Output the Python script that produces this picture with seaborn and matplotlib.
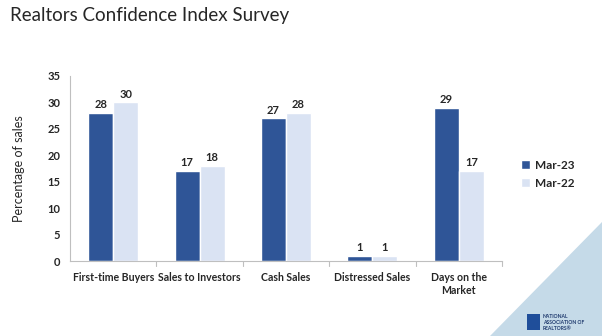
import matplotlib
matplotlib.use("Agg")
import matplotlib.pyplot as plt
import seaborn as sns
import pandas as pd
from matplotlib.patches import Polygon, Rectangle

categories = ["First-time Buyers", "Sales to Investors", "Cash Sales", "Distressed Sales", "Days on the\nMarket"]
mar23 = [28, 17, 27, 1, 29]
mar22 = [30, 18, 28, 1, 17]
series = ["Mar-23", "Mar-22"]

df = pd.DataFrame({
    "category": categories * 2,
    "value": mar23 + mar22,
    "series": [series[0]] * 5 + [series[1]] * 5,
})

sns.set_style("white")
plt.rcParams['font.family'] = ['Lato', 'DejaVu Sans']

fig = plt.figure(figsize=(6.02, 3.36), dpi=100)
# decorative triangle bottom-right
tri = Polygon([(490/602, 0), (1, 0), (1, 1 - 222/336)], closed=True,
              transform=fig.transFigure, facecolor="#C5DAE8", edgecolor="none", zorder=0)
fig.patches.append(tri)

ax = fig.add_axes([70/602, 1 - 261/336, (502-70)/602, (261-76)/336])
sns.barplot(data=df, x="category", y="value", hue="series", order=categories,
            hue_order=series, palette=["#2F5597", "#DAE3F3"], width=0.58,
            saturation=1, ax=ax, legend=True)
for c in ax.containers:
    ax.bar_label(c, labels=[f"{v:.0f}" for v in c.datavalues], fontsize=8,
                 fontweight="bold", padding=2)
ax.set_ylim(0, 35)
ax.set_yticks(range(0, 36, 5))
ax.set_xlim(-0.5, 4.5)
ax.set_xlabel("")
ax.set_ylabel("Percentage of sales", fontsize=9, labelpad=16)
ax.tick_params(axis="y", labelsize=8, length=4, color="#BFBFBF", direction="out", pad=3)
ax.tick_params(axis="x", labelsize=7.6, length=0, pad=8)
for lab in ax.get_yticklabels() + ax.get_xticklabels():
    lab.set_fontweight("bold")
for s in ["top", "right"]:
    ax.spines[s].set_visible(False)
ax.spines["left"].set_color("#BFBFBF")
ax.spines["bottom"].set_color("#BFBFBF")
for x in [0.5, 1.5, 2.5, 3.5, 4.5]:
    ax.plot([x, x], [0, -0.9], color="#BFBFBF", lw=0.8, clip_on=False)
ax.set_facecolor("none")

leg = ax.legend(loc="center left", bbox_to_anchor=(1.02, 0.47), frameon=False,
                fontsize=8.5, handlelength=0.7, handleheight=0.7, handletextpad=0.5,
                labelspacing=0.6)
for t in leg.get_texts():
    t.set_fontweight("bold")

fig.text(10/602, 1 - 16/336, "Realtors Confidence Index Survey", fontsize=13.5,
         va="center", ha="left", color="#262626")

# logo
fig.patches.append(Rectangle((527/602, 1 - 330/336), 13/602, 16/336,
                             transform=fig.transFigure, facecolor="#1F4E9A", edgecolor="none"))
fig.text(543/602, 1 - 322/336, "NATIONAL\nASSOCIATION OF\nREALTORS®", fontsize=3.6,
         fontweight="bold", color="#1F3A6E", va="center", ha="left", linespacing=1.25)

fig.savefig("out.png", dpi=100)
